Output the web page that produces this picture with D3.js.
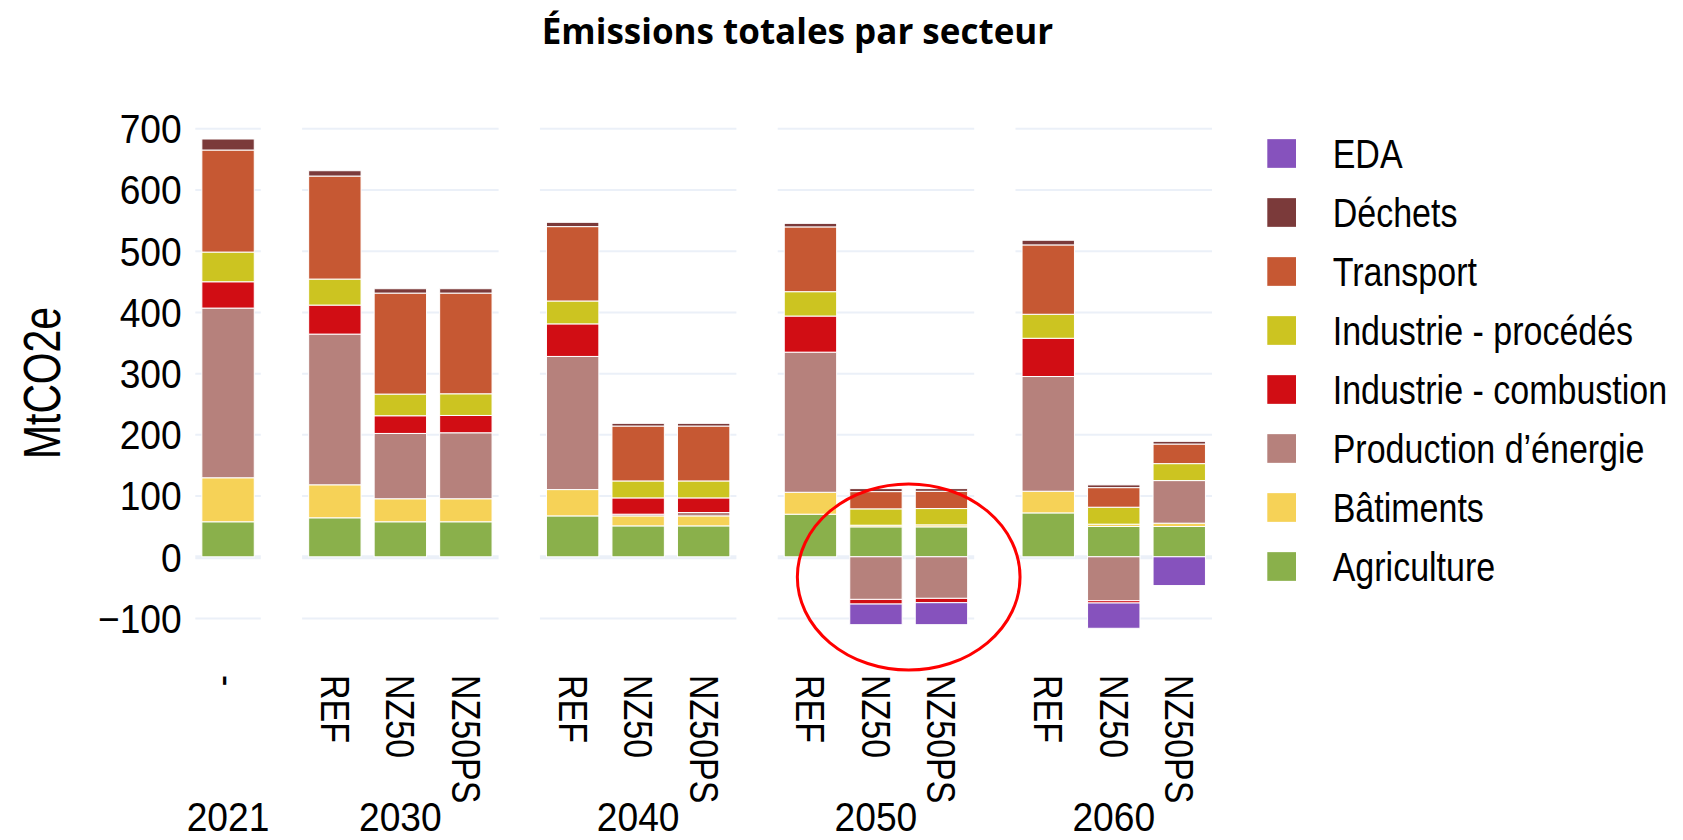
<!DOCTYPE html>
<html>
<head>
<meta charset="utf-8">
<script src="https://cdn.jsdelivr.net/npm/d3@7"></script>
<style>
  html, body { margin: 0; padding: 0; background: #fff; }
  svg { display: block; }
</style>
</head>
<body>
<div id="chart"></div>
<script>
// sectors in stacking order (legend shows them reversed)
let sectors = ['Agriculture', 'Bâtiments', 'Production d’énergie', 'Industrie - combustion',
  'Industrie - procédés', 'Transport', 'Déchets', 'EDA'];
let colours = ['#8ab04b', '#f6d257', '#b6817c', '#d10d14', '#ccc421', '#c65833', '#7b3a3a', '#8652bd'];

let years = ['2021', '2030', '2040', '2050', '2060'];
let scenarios = [['-'], ['REF', 'NZ50', 'NZ50PS'], ['REF', 'NZ50', 'NZ50PS'],
  ['REF', 'NZ50', 'NZ50PS'], ['REF', 'NZ50', 'NZ50PS']];

// one value per bar: 2021, 2030 REF/NZ50/NZ50PS, 2040 ..., 2050 ..., 2060 ...
let agriculture = [57.2, 63.7, 57.2, 57.2, 66.8, 50.5, 50.5, 69.6, 48.9, 48.9, 71.7, 49.5, 49.5];
let batiments   = [71.9, 53.9, 37.6, 37.6, 43.0, 16.3, 16.3, 35.8, 2.7, 3.3, 35.4, 3.8, 5.4];
let production  = [277.2, 246.2, 106.7, 107.8, 217.5, 2.8, 5.5, 228.9, -69.6, -67.9, 187.4, -71.7, 69.6];
let combustion  = [43.0, 47.4, 28.9, 28.3, 53.2, 26.6, 23.9, 59.0, -7.6, -7.1, 62.5, -3.8, 0];
let procedes    = [48.5, 42.5, 35.4, 35.4, 37.4, 27.7, 27.7, 39.8, 26.7, 26.6, 39.2, 27.7, 27.7];
let transport   = [166.7, 168.3, 165.0, 164.5, 121.5, 89.7, 89.7, 105.8, 28.2, 28.2, 113.3, 32.0, 32.0];
let dechets     = [18.0, 8.7, 7.1, 7.1, 7.0, 4.4, 4.4, 5.8, 4.9, 4.4, 7.6, 4.4, 4.4];
let eda         = [0, 0, 0, 0, 0, 0, 0, 0, -33.7, -35.9, 0, -41.3, -47.0];

let yTicks = [-100, 0, 100, 200, 300, 400, 500, 600, 700];

// highlighted group (red ellipse)
let highlight = { year: '2050', from: 'NZ50', to: 'NZ50PS', yMin: -185, yMax: 119 };

let series = [agriculture, batiments, production, combustion, procedes, transport, dechets, eda];

let width = 1683, height = 840;
let font = '"Liberation Sans", Arial, sans-serif';
// the original font is a narrow grotesque, squeeze Liberation Sans horizontally
let squeezeText = 0.85, squeezeNum = 0.93;
let plotLeft = 195.3, plotRight = 1212, gap = 41.3;
let nBars = d3.sum(scenarios, d => d.length);
let step = (plotRight - plotLeft - gap * (years.length - 1)) / nBars;

let svg = d3.select('#chart').append('svg')
  .attr('width', width)
  .attr('height', height)
  .style('font-family', font);

let y = d3.scaleLinear().domain([-100, 700]).range([618, 128.3]);

// flat rows for the stack
let rows = [];
scenarios.forEach((sc, i) => sc.forEach(s => rows.push({ year: years[i], scen: s })));
rows.forEach((r, j) => sectors.forEach((k, si) => { r[k] = series[si][j]; }));

let stacked = d3.stack().keys(sectors).offset(d3.stackOffsetDiverging)(rows);

// one band scale per year panel
let panels = [];
let x0 = plotLeft;
years.forEach((yr, i) => {
  let w = scenarios[i].length * step;
  let band = d3.scaleBand().domain(scenarios[i]).range([x0, x0 + w])
    .paddingInner(0.2).paddingOuter(0.1);
  panels.push({ year: yr, x0: x0, w: w, band: band });
  x0 += w + gap;
});
let panelOf = {};
panels.forEach(p => { panelOf[p.year] = p; });

// gridlines
panels.forEach(p => {
  let g = svg.append('g').attr('transform', 'translate(' + p.x0 + ',0)')
    .call(d3.axisLeft(y).tickValues(yTicks).tickSize(-p.w).tickFormat(''));
  g.select('.domain').remove();
  g.selectAll('.tick line')
    .attr('stroke', '#ebf0f8')
    .attr('stroke-width', d => d === 0 ? 4 : 2);
});

// y tick labels
let yAxis = svg.append('g').attr('transform', 'translate(' + plotLeft + ',0)')
  .call(d3.axisLeft(y).tickValues(yTicks).tickSize(0)
    .tickFormat(d => d < 0 ? '\u2212' + Math.abs(d) : d));
yAxis.select('.domain').remove();
yAxis.selectAll('text')
  .attr('x', 0)
  .attr('transform', 'translate(-13.6,0) scale(' + squeezeNum + ',1)')
  .attr('font-family', font)
  .attr('font-size', 40)
  .attr('fill', '#000')
  .attr('dy', '0.36em');

// bars
svg.append('g').selectAll('g')
  .data(stacked)
  .enter().append('g')
  .attr('fill', (d, i) => colours[i])
  .selectAll('rect')
  .data(d => d.filter(s => s[1] - s[0] !== 0))
  .enter().append('rect')
  .attr('x', d => panelOf[d.data.year].band(d.data.scen))
  .attr('width', d => panelOf[d.data.year].band.bandwidth())
  .attr('y', d => y(Math.max(d[0], d[1])))
  .attr('height', d => Math.abs(y(d[0]) - y(d[1])))
  .attr('stroke', '#fff')
  .attr('stroke-width', 1);

// scenario labels (rotated) and year labels
panels.forEach(p => {
  svg.append('g').selectAll('text')
    .data(p.band.domain())
    .enter().append('text')
    .attr('transform', d => 'translate(' + (p.band(d) + p.band.bandwidth() / 2) +
      ',675) rotate(90) scale(' + squeezeText + ',1)')
    .attr('dy', '0.35em')
    .attr('text-anchor', 'start')
    .attr('font-size', 40)
    .attr('fill', '#000')
    .text(d => d);

  svg.append('text')
    .attr('transform', 'translate(' + (p.x0 + p.w / 2) + ',831) scale(' + squeezeNum + ',1)')
    .attr('text-anchor', 'middle')
    .attr('font-size', 40)
    .attr('fill', '#000')
    .text(p.year);
});

// highlight ellipse
let hp = panelOf[highlight.year];
let xa = hp.band(highlight.from) + hp.band.bandwidth() / 2;
let xb = hp.band(highlight.to) + hp.band.bandwidth() / 2;
svg.append('ellipse')
  .attr('cx', (xa + xb) / 2)
  .attr('cy', (y(highlight.yMin) + y(highlight.yMax)) / 2)
  .attr('rx', (xb - xa) / 2 + 1.2 * step)
  .attr('ry', (y(highlight.yMin) - y(highlight.yMax)) / 2)
  .attr('fill', 'none')
  .attr('stroke', '#ff0000')
  .attr('stroke-width', 3);

// y axis title
svg.append('text')
  .attr('transform', 'translate(60,383) rotate(-90) scale(0.8,1)')
  .attr('text-anchor', 'middle')
  .attr('font-size', 51)
  .attr('fill', '#000')
  .text('MtCO2e');

// title
svg.append('text')
  .attr('x', 797.5)
  .attr('y', 44)
  .attr('text-anchor', 'middle')
  .style('font-family', '"Open Sans", sans-serif')
  .attr('font-weight', 'bold')
  .attr('font-size', 35)
  .attr('fill', '#000')
  .text('Émissions totales par secteur');

// legend, reversed order
let legendItems = sectors.map((s, i) => ({ name: s, colour: colours[i] })).reverse();
let legend = svg.append('g').selectAll('g')
  .data(legendItems)
  .enter().append('g')
  .attr('transform', (d, i) => 'translate(1267.3,' + (153.5 + i * 59) + ')');
legend.append('rect')
  .attr('y', -14.35)
  .attr('width', 28.7)
  .attr('height', 28.7)
  .attr('fill', d => d.colour);
legend.append('text')
  .attr('transform', 'translate(65.4,0) scale(' + squeezeText + ',1)')
  .attr('dy', '0.36em')
  .attr('font-size', 40)
  .attr('fill', '#000')
  .text(d => d.name);
</script>
</body>
</html>
